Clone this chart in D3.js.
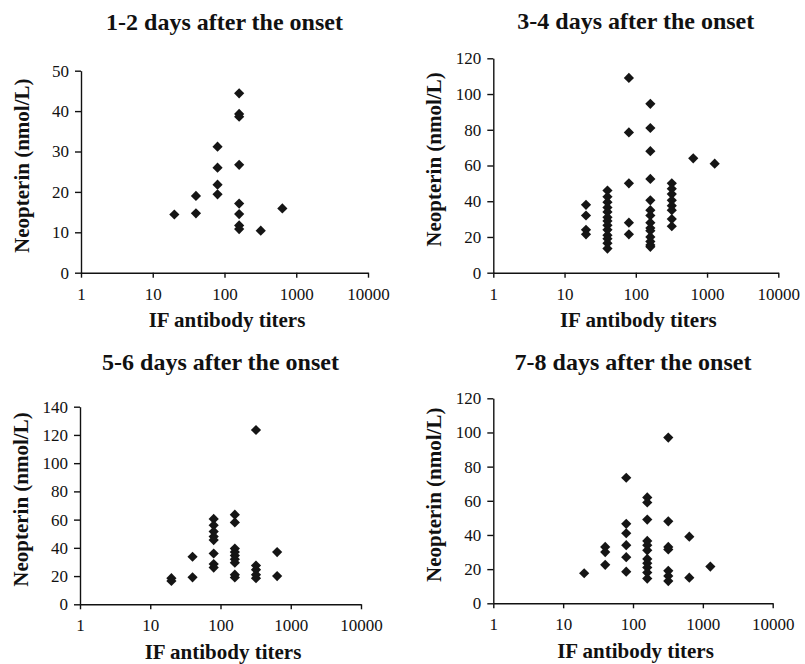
<!DOCTYPE html>
<html>
<head>
<meta charset="utf-8">
<script src="https://cdn.jsdelivr.net/npm/d3@7"></script>
<style>
  body { margin: 0; background: #fff; }
  svg { display: block; font-family: "Liberation Serif", "Times New Roman", serif; }
  .axis path, .axis line { stroke: #111; stroke-width: 1.4; }
  .axis text { font-size: 17px; fill: #111; font-family: "Liberation Serif", serif; }
  .title, .xlab, .ylab { font-weight: bold; fill: #111; }
</style>
</head>
<body>
<svg id="chart" width="805" height="664"></svg>
<script>
// IF antibody titer (x) and neopterin nmol/L (y) for each period
var titers12 = [20, 40, 40, 80, 80, 80, 80, 160, 160, 160, 160, 160, 160, 160, 160, 320, 640];
var neo12    = [14.4, 19.0, 14.7, 31.2, 26.0, 21.8, 19.4, 44.4, 39.3, 38.6, 26.7, 17.1, 14.5, 11.7, 10.8, 10.4, 15.9];

var titers34 = [20, 20, 20, 20,
  40, 40, 40, 40, 40, 40, 40, 40, 40, 40, 40, 40, 40,
  80, 80, 80, 80, 80,
  160, 160, 160, 160, 160, 160, 160, 160, 160, 160, 160, 160, 160, 160,
  320, 320, 320, 320, 320, 320, 320, 320,
  640, 1280];
var neo34    = [38, 32, 24, 21.5,
  46, 42.5, 39.5, 36.5, 34, 31, 29, 26.5, 24, 21, 19, 16.5, 13.5,
  109, 78.5, 50, 28, 21.5,
  94.5, 81, 68, 52.5, 40.5, 35, 32, 28, 25, 23.5, 20, 17.5, 15.5, 14.5,
  50, 47, 44, 40.5, 37.5, 35, 30, 26,
  64, 61];

var titers56 = [20, 20, 40, 40,
  80, 80, 80, 80, 80, 80, 80, 80,
  160, 160, 160, 160, 160, 160, 160, 160, 160,
  320, 320, 320, 320, 320,
  640, 640];
var neo56    = [18.5, 16.5, 33.7, 19.1,
  60.5, 56, 51.5, 48, 45.5, 36, 28.5, 26,
  63.5, 58, 39.5, 37, 34.5, 32, 29.5, 21, 19,
  123.5, 27.5, 24.5, 21, 18.5,
  37, 20];

var titers78 = [20, 40, 40, 40,
  80, 80, 80, 80, 80, 80,
  160, 160, 160, 160, 160, 160, 160, 160, 160, 160, 160,
  320, 320, 320, 320, 320, 320, 320,
  640, 640, 1280];
var neo78    = [17.6, 33, 30, 22.5,
  73.5, 46.5, 41, 34, 27, 18.5,
  62, 59, 49, 36.5, 34, 31, 26, 23.5, 21, 18, 14.5,
  97, 48, 33, 31.5, 19, 16, 13,
  39, 15, 21.5];

var xTicks = [1, 10, 100, 1000, 10000];
var titles = ["1-2 days after the onset", "3-4 days after the onset",
              "5-6 days after the onset", "7-8 days after the onset"];
var yMax = [50, 120, 140, 120];
var yStep = [10, 20, 20, 20];

// plot boxes (left, right, top, bottom) and title baselines
var boxes = [
  {x0: 81,    x1: 368,   y0: 70.7,  y1: 272.7, ty: 30},
  {x0: 493.3, x1: 778.3, y0: 58.3,  y1: 272.7, ty: 29},
  {x0: 80,    x1: 361,   y0: 406.7, y1: 604.3, ty: 370},
  {x0: 493.3, x1: 772.7, y0: 398.3, y1: 603.3, ty: 370}
];
var xs = [titers12, titers34, titers56, titers78];
var ys = [neo12, neo34, neo56, neo78];

var svg = d3.select("#chart");
var diamond = d3.symbol().type(d3.symbolSquare).size(52);

boxes.forEach(function(b, i) {
  var x = d3.scaleLog().domain([1, 10000]).range([b.x0, b.x1]);
  var y = d3.scaleLinear().domain([0, yMax[i]]).range([b.y1, b.y0]);
  var g = svg.append("g");

  g.append("g")
    .attr("class", "axis")
    .attr("transform", "translate(0," + b.y1 + ")")
    .call(d3.axisBottom(x).tickValues(xTicks).tickFormat(d3.format("d"))
      .tickSizeInner(5).tickSizeOuter(0).tickPadding(10));

  g.append("g")
    .attr("class", "axis")
    .attr("transform", "translate(" + b.x0 + ",0)")
    .call(d3.axisLeft(y).tickValues(d3.range(0, yMax[i] + 1, yStep[i]))
      .tickSizeInner(6).tickSizeOuter(0).tickPadding(6));

  g.selectAll(".pt")
    .data(xs[i].map(function(t, k) { return [t, ys[i][k]]; }))
    .enter().append("path")
    .attr("class", "pt")
    .attr("d", diamond)
    .attr("fill", "#151515")
    .attr("transform", function(d) {
      return "translate(" + x(d[0]) + "," + y(d[1]) + ") rotate(45)";
    });

  var cx = (b.x0 + b.x1) / 2;
  g.append("text")
    .attr("class", "title")
    .attr("x", cx)
    .attr("y", b.ty)
    .attr("text-anchor", "middle")
    .style("font-size", "24px")
    .text(titles[i]);

  g.append("text")
    .attr("class", "xlab")
    .attr("x", cx + 2.5)
    .attr("y", b.y1 + 54.5)
    .attr("text-anchor", "middle")
    .style("font-size", "21px")
    .text("IF antibody titers");

  g.append("text")
    .attr("class", "ylab")
    .attr("transform", "translate(" + (b.x0 - 52) + "," + ((b.y0 + b.y1) / 2 - 6) + ") rotate(-90)")
    .attr("text-anchor", "middle")
    .style("font-size", "21px")
    .text("Neopterin (nmol/L)");
});
</script>
</body>
</html>
